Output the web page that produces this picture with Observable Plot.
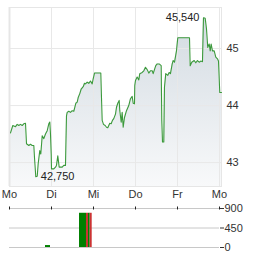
<!DOCTYPE html>
<html><head><meta charset="utf-8">
<script src="https://cdn.jsdelivr.net/npm/d3@7"></script>
<script src="https://cdn.jsdelivr.net/npm/@observablehq/plot@0.6"></script>
<style>
html,body{margin:0;padding:0;background:#fff;}
#chart{width:264px;height:255px;overflow:hidden;}
#chart svg{display:block;}
</style></head><body><div id="chart"></div>
<script>
// ---- data ----
const dayLabels = ["Mo", "Di", "Mi", "Do", "Fr", "Mo"];
const dayTicks = [0, 1, 2, 3, 4, 5];
const priceTicks = [43, 44, 45];
const volumeTicks = [0, 450, 900];
const priceDomain = [42.58, 45.72];

// time in days since Monday, price in EUR
const times = [0.024,0.079,0.143,0.183,0.221,0.262,0.302,0.340,0.381,0.405,0.460,0.500,0.540,0.579,0.595,0.626,0.660,0.683,0.721,0.745,
0.779,0.817,0.857,0.898,0.936,0.960,0.976,0.993,1.000,1.055,1.095,1.119,1.150,1.183,1.255,1.293,1.333,1.340,1.357,1.374,
1.412,1.452,1.493,1.531,1.555,1.579,1.612,1.636,1.674,1.707,1.755,1.786,1.810,1.850,1.888,1.929,1.969,1.993,2.024,2.174,
2.190,2.207,2.238,2.279,2.310,2.340,2.388,2.421,2.452,2.483,2.524,2.548,2.579,2.612,2.626,2.660,2.683,2.707,2.738,2.786,
2.840,2.881,2.921,2.945,2.976,2.983,3.000,3.040,3.079,3.102,3.160,3.198,3.238,3.279,3.317,3.357,3.398,3.421,3.452,3.483,
3.517,3.564,3.612,3.626,3.643,3.674,3.690,3.721,3.769,3.802,3.833,3.874,3.898,3.929,3.976,4.007,4.286,4.302,4.340,4.398,
4.436,4.476,4.517,4.555,4.595,4.619,4.660,4.690,4.721,4.755,4.779,4.802,4.833,4.874,4.912,4.952,4.976,5.007,5.048];
const prices = [43.52,43.65,43.63,43.67,43.65,43.67,43.65,43.68,43.69,43.33,43.30,43.32,43.30,43.30,43.09,42.75,42.76,42.98,43.21,43.15,
43.47,43.42,43.50,43.56,43.68,43.71,43.50,43.15,42.89,42.89,42.92,42.95,43.12,42.92,42.92,42.95,42.95,43.21,43.82,43.88,
43.90,43.88,43.91,43.90,43.97,44.04,44.06,44.14,44.21,44.29,44.33,44.39,44.38,44.41,44.39,44.43,44.38,44.47,44.57,44.57,
44.15,43.74,43.67,43.65,43.62,43.61,43.69,43.68,43.74,43.77,43.85,43.97,44.04,44.09,43.91,43.71,43.88,43.62,43.79,43.91,
44.00,44.12,44.16,44.04,44.03,44.35,44.44,44.50,44.45,44.56,44.58,44.61,44.67,44.63,44.57,44.61,44.61,44.56,44.63,44.70,
44.73,44.73,44.70,43.74,43.36,43.36,44.32,44.56,44.53,44.58,44.56,44.73,44.79,44.76,44.96,45.19,45.19,44.70,44.76,44.79,
44.75,44.79,44.76,44.78,44.77,45.54,45.53,45.35,45.02,45.08,44.96,45.08,44.96,44.96,44.85,44.82,44.78,44.23,44.23];

// volume bars (start day, end day, volume, colour)
const volStart = [0.857, 1.667, 1.833, 1.881, 1.921];
const volEnd = [0.976, 1.833, 1.881, 1.921, 1.969];
const volValues = [45, 790, 790, 790, 790];
const volColors = ["#008000", "#008000", "#cc3333", "#008000", "#cc3333"];

// ---- build ----
const font = '"Liberation Sans", Arial, sans-serif';
const series = times.map((t, i) => ({t, p: prices[i]}));
const minPt = d3.least(series, d => d.p);
const maxPt = d3.greatest(series, d => d.p);
const fmt = v => v.toFixed(3).replace(".", ",");
const volBars = volStart.map((s, i) => ({s, e: volEnd[i], v: volValues[i], c: volColors[i]}));

const price = Plot.plot({
  width: 264, height: 200,
  marginLeft: 9, marginRight: 43, marginTop: 7, marginBottom: 14,
  style: {fontFamily: font, fontSize: "11px", color: "#333", background: "transparent", overflow: "visible"},
  x: {domain: [0, 5.048], label: null},
  y: {domain: priceDomain, label: null},
  marks: [
    Plot.area(series, {x1: "t", y1: priceDomain[0], y2: "p", fill: "url(#areaGrad)"}),
    Plot.gridX(dayTicks, {stroke: "#e8e8e8", strokeOpacity: 1}),
    Plot.gridY(priceTicks, {stroke: "#e8e8e8", strokeOpacity: 1}),
    Plot.frame({stroke: "#e6e6e6"}),
    Plot.ruleX([0], {stroke: "#e6e6e6", strokeWidth: 2}),
    Plot.line(series, {x: "t", y: "p", stroke: "#3c9a3c", strokeWidth: 1.1}),
    Plot.axisX(dayTicks, {tickSize: 0, tickPadding: 4, tickFormat: d => dayLabels[d], label: null}),
    Plot.axisY(priceTicks, {anchor: "right", tickSize: 0, tickPadding: 5, tickFormat: d => String(d), label: null}),
    Plot.text([minPt], {x: "t", y: "p", text: d => fmt(d.p), textAnchor: "start", dx: 5, fill: "#222"}),
    Plot.text([maxPt], {x: "t", y: "p", text: d => fmt(d.p), textAnchor: "end", dx: -4, fill: "#222"})
  ]
});
d3.select(price).insert("defs", ":first-child").html(
  '<linearGradient id="areaGrad" x1="0" y1="0" x2="0" y2="1">' +
  '<stop offset="0" stop-color="#d3dbe2"/><stop offset="1" stop-color="#f8f9fa"/></linearGradient>');

const vol = Plot.plot({
  width: 264, height: 55,
  marginLeft: 9, marginRight: 45, marginTop: 8, marginBottom: 8,
  style: {fontFamily: font, fontSize: "11px", color: "#333", background: "transparent", overflow: "visible"},
  x: {domain: [0, 5], axis: null},
  y: {domain: [0, 900], label: null},
  color: {type: "identity"},
  marks: [
    Plot.gridY(volumeTicks, {stroke: "#c8c8c8", strokeOpacity: 1}),
    Plot.rect(volBars, {x1: "s", x2: "e", y1: 0, y2: "v", fill: "c"}),
    Plot.ruleX(dayTicks, {x: d => d, y1: 900, y2: 900, insetTop: -1.5, insetBottom: -1.5, stroke: "#222"}),
    Plot.axisY(volumeTicks, {anchor: "right", tickSize: 4, tickPadding: 1, tickFormat: d => String(d), label: null})
  ]
});

const root = document.getElementById("chart");
root.appendChild(price);
root.appendChild(vol);
</script>
</body></html>
